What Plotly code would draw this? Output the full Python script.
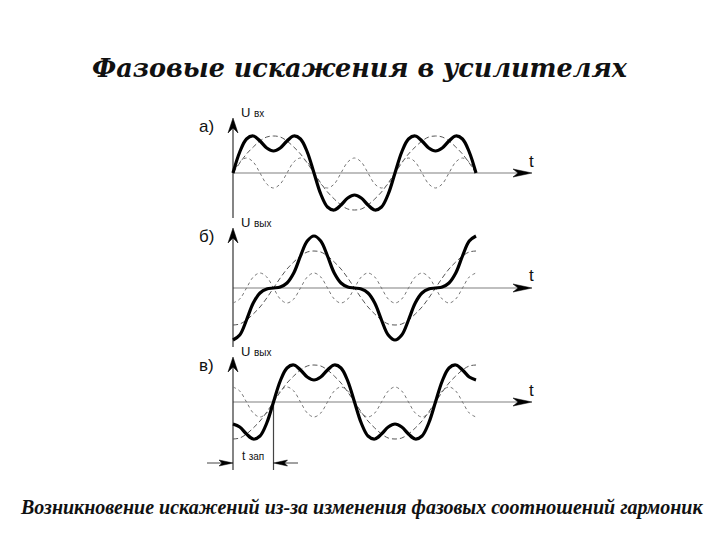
import plotly.graph_objects as go

# ---------------- data ----------------
# time in degrees of the fundamental, 1.5 periods
t_deg = [0, 15, 30, 45, 60, 75, 90, 105, 120, 135, 150, 165, 180,
         195, 210, 225, 240, 255, 270, 285, 300, 315, 330, 345, 360,
         375, 390, 405, 420, 435, 450, 465, 480, 495, 510, 525, 540]

# а) input: fundamental, 3rd harmonic, resulting wave
a_fund = [0, 10, 19, 26, 32, 36, 37, 36, 32, 26, 19, 10, 0,
          -10, -19, -26, -32, -36, -37, -36, -32, -26, -19, -10, 0,
          10, 19, 26, 32, 36, 37, 36, 32, 26, 19, 10, 0]
a_harm = [0, 11, 15, 11, 0, -11, -15, -11, 0, 11, 15, 11, 0,
          -11, -15, -11, 0, 11, 15, 11, 0, -11, -15, -11, 0,
          11, 15, 11, 0, -11, -15, -11, 0, 11, 15, 11, 0]
a_sum = [0, 21, 34, 37, 32, 25, 22, 25, 32, 37, 34, 21, 0,
         -21, -34, -37, -32, -25, -22, -25, -32, -37, -34, -21, 0,
         21, 34, 37, 32, 25, 22, 25, 32, 37, 34, 21, 0]

# б) output with phase distortion
b_fund = [-37, -36, -32, -26, -19, -10, 0, 10, 19, 26, 32, 36, 37,
          36, 32, 26, 19, 10, 0, -10, -19, -26, -32, -36, -37,
          -36, -32, -26, -19, -10, 0, 10, 19, 26, 32, 36, 37]
b_harm = [-15, -11, 0, 11, 15, 11, 0, -11, -15, -11, 0, 11, 15,
          11, 0, -11, -15, -11, 0, 11, 15, 11, 0, -11, -15,
          -11, 0, 11, 15, 11, 0, -11, -15, -11, 0, 11, 15]
b_sum = [-52, -47, -32, -15, -5, -1, 0, 1, 5, 15, 32, 47, 52,
         47, 32, 15, 5, 1, 0, -1, -5, -15, -32, -47, -52,
         -47, -32, -15, -5, -1, 0, 1, 5, 15, 32, 47, 52]

# в) output delayed by t_зап, shape preserved
c_fund = [-37, -36, -32, -26, -19, -10, 0, 10, 19, 26, 32, 36, 37,
          36, 32, 26, 19, 10, 0, -10, -19, -26, -32, -36, -37,
          -36, -32, -26, -19, -10, 0, 10, 19, 26, 32, 36, 37]
c_harm = [15, 11, 0, -11, -15, -11, 0, 11, 15, 11, 0, -11, -15,
          -11, 0, 11, 15, 11, 0, -11, -15, -11, 0, 11, 15,
          11, 0, -11, -15, -11, 0, 11, 15, 11, 0, -11, -15]
c_sum = [-22, -25, -32, -37, -34, -21, 0, 21, 34, 37, 32, 25, 22,
         25, 32, 37, 34, 21, 0, -21, -34, -37, -32, -25, -22,
         -25, -32, -37, -34, -21, 0, 21, 34, 37, 32, 25, 22]

t_zap_deg = 90

panel_labels = ["а)", "б)", "в)"]
u_labels = ["вх", "вых", "вых"]
title_text = "Фазовые искажения в усилителях"
caption_text = "Возникновение искажений из-за изменения фазовых соотношений гармоник"

# ---------------- layout helpers ----------------
W, H = 720, 540
OFF = 8           # page body margin of the html page
X0 = 233          # pixel of t = 0
PXD = 0.45        # pixels per degree
XL, XR = 190, 545


def fx(p):
    return (p - OFF) / W


def fy(p):
    return 1 - (p - OFF) / H


xr = [(XL - X0) / PXD, (XR - X0) / PXD]

# per panel: pixel of zero line, domain top/bottom pixel, axis top tip, axis bottom
panels = [
    dict(zero=173, top=100, bot=225, tip=118, ybot=218),
    dict(zero=288, top=213, bot=350, tip=228, ybot=347),
    dict(zero=402, top=343, bot=478, tip=357, ybot=470),
]
series = [(a_fund, a_harm, a_sum), (b_fund, b_harm, b_sum), (c_fund, c_harm, c_sum)]

fig = go.Figure()
shapes = []
annotations = []


def label(text, x, y, size, family="Liberation Sans", xanchor="center", **font_kw):
    annotations.append(dict(text=text, xref="paper", yref="paper", x=fx(x), y=fy(y),
                            xanchor=xanchor, yanchor="middle", showarrow=False,
                            font=dict(family=family, size=size, color="#111", **font_kw)))


for i, (p, (fund, harm, ssum)) in enumerate(zip(panels, series)):
    n = "" if i == 0 else str(i + 1)
    xa, ya = "x" + n, "y" + n
    fig.add_trace(go.Scatter(x=t_deg, y=fund, mode="lines", xaxis=xa, yaxis=ya,
                             line=dict(color="#555555", width=1, dash="5px,3px", shape="spline"),
                             showlegend=False, hoverinfo="skip"))
    fig.add_trace(go.Scatter(x=t_deg, y=harm, mode="lines", xaxis=xa, yaxis=ya,
                             line=dict(color="#777777", width=1, dash="3px,3px", shape="spline"),
                             showlegend=False, hoverinfo="skip"))
    fig.add_trace(go.Scatter(x=t_deg, y=ssum, mode="lines", xaxis=xa, yaxis=ya,
                             line=dict(color="black", width=3.2, shape="spline"),
                             showlegend=False, hoverinfo="skip"))

    yr = [p["zero"] - p["bot"], p["zero"] - p["top"]]
    ax_common = dict(showgrid=False, zeroline=False, showticklabels=False,
                     ticks="", showline=False, fixedrange=True)
    fig.layout["xaxis" + n] = dict(domain=[fx(XL), fx(XR)], range=xr,
                                    anchor=ya, **ax_common)
    fig.layout["yaxis" + n] = dict(domain=[fy(p["bot"]), fy(p["top"])], range=yr,
                                    anchor=xa, **ax_common)

    x_end = (532 - X0) / PXD
    y_tip = p["zero"] - p["tip"]
    y_bot = p["zero"] - p["ybot"]
    # horizontal axis
    shapes.append(dict(type="line", xref=xa, yref=ya, x0=0, x1=x_end - 10, y0=0, y1=0,
                       line=dict(color="#808080", width=1.2), layer="below"))
    shapes.append(dict(type="path", xref=xa, yref=ya, xsizemode="pixel", ysizemode="pixel",
                       xanchor=x_end, yanchor=0,
                       path="M0,0 L-19,4 L-14,0 L-19,-4 Z",
                       fillcolor="black", line=dict(color="black", width=0.5)))
    # vertical axis
    shapes.append(dict(type="line", xref=xa, yref=ya, x0=0, x1=0, y0=y_bot, y1=y_tip - 8,
                       line=dict(color="#333333", width=1.2), layer="below"))
    shapes.append(dict(type="path", xref=xa, yref=ya, xsizemode="pixel", ysizemode="pixel",
                       xanchor=0, yanchor=y_tip,
                       path="M0,0 L-5,-15 L0,-10 L5,-15 Z",
                       fillcolor="black", line=dict(color="black", width=0.5)))

    # labels
    label(panel_labels[i], 206, p["tip"] + 8, 17)
    label("U <span style='font-size:10px'>" + u_labels[i] + "</span>",
          239, p["tip"] - 6, 13, xanchor="left")
    label("t", 531, p["zero"] - 12, 17)

# t_зап marker on panel в
shapes.append(dict(type="line", xref="x3", yref="y3", x0=t_zap_deg, x1=t_zap_deg,
                   y0=0, y1=402 - 470, line=dict(color="#444444", width=1.2), layer="below"))
y_arr = 402 - 463
shapes.append(dict(type="line", xref="x3", yref="y3", x0=(207 - X0) / PXD, x1=-6,
                   y0=y_arr, y1=y_arr, line=dict(color="#444444", width=1)))
shapes.append(dict(type="path", xref="x3", yref="y3", xsizemode="pixel", ysizemode="pixel",
                   xanchor=0, yanchor=y_arr, path="M0,0 L-14,3 L-11,0 L-14,-3 Z",
                   fillcolor="black", line=dict(color="black", width=0.5)))
shapes.append(dict(type="line", xref="x3", yref="y3", x0=t_zap_deg + 6, x1=(298 - X0) / PXD,
                   y0=y_arr, y1=y_arr, line=dict(color="#444444", width=1)))
shapes.append(dict(type="path", xref="x3", yref="y3", xsizemode="pixel", ysizemode="pixel",
                   xanchor=t_zap_deg, yanchor=y_arr, path="M0,0 L14,3 L11,0 L14,-3 Z",
                   fillcolor="black", line=dict(color="black", width=0.5)))
label("t <span style='font-size:10px'>зап</span>", 253, 456, 12)

# title and caption
label(title_text, 360, 68, 25.5, family="DejaVu Serif", weight="bold", style="italic")
label(caption_text, 361, 507, 20, family="Liberation Serif", weight="bold", style="italic")

fig.update_layout(width=W, height=H, margin=dict(l=0, r=0, t=0, b=0),
                  paper_bgcolor="white", plot_bgcolor="rgba(0,0,0,0)",
                  shapes=shapes, annotations=annotations, showlegend=False)

fig.write_html("out.html")
